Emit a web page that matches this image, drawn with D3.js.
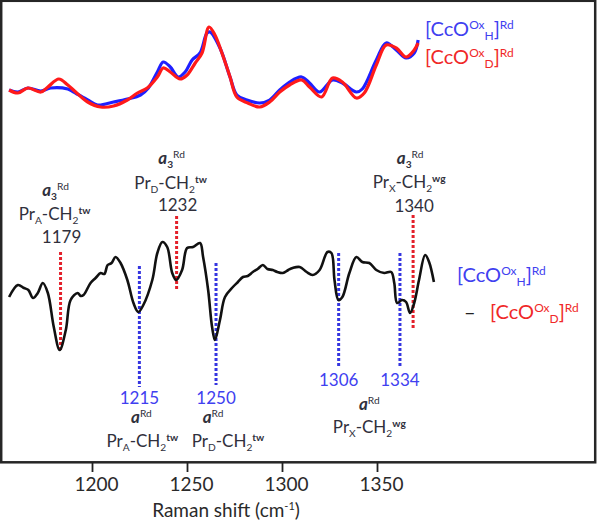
<!DOCTYPE html>
<html><head><meta charset="utf-8">
<script src="https://cdn.jsdelivr.net/npm/d3@7"></script>
<style>body{margin:0;background:#fff}svg{display:block}</style>
</head><body>
<svg id="c" width="600" height="524"></svg>
<script>
// ---- data (wavenumber, intensity in arbitrary units) ----
const topBlue = [[1155.5,20],[1159.5,18],[1164.1,22],[1170,19],[1174.5,22],[1182.3,21],[1185,18],[1191.4,10],[1195.9,5],[1203.2,8],[1209.5,11],[1215.5,15],[1219.1,22],[1223.2,38],[1225.9,48],[1229.1,43],[1232.7,33],[1235.9,38],[1239.1,50],[1242.7,57],[1245.9,77],[1247.3,78],[1251.8,62],[1256.4,33],[1259.5,15],[1264.1,10],[1270,7],[1274.5,10],[1279.1,20],[1283.6,28],[1289.1,33],[1292.7,27],[1297.3,18],[1303.2,30],[1307.7,27],[1314.1,18],[1316.8,21],[1323.2,50],[1327.7,67],[1332.3,60],[1336.8,52],[1340.5,57],[1342.3,70]];
const topRed = [[1155.5,20],[1159.5,17],[1164.1,22],[1170,18],[1173.2,23],[1178.2,31],[1182.3,25],[1185.9,18],[1191.4,8],[1197.3,3],[1203.2,4],[1209.5,10],[1214.1,17],[1218.6,22],[1223.2,33],[1225.9,42],[1229.1,38],[1233.6,31],[1236.8,35],[1240.5,47],[1243.6,57],[1246.8,83],[1249.5,75],[1252.7,57],[1256.4,33],[1259.5,13],[1264.5,7],[1270,3],[1274.5,8],[1279.1,18],[1283.6,25],[1289.1,30],[1292.7,23],[1298.2,13],[1303.2,32],[1307.7,28],[1314.1,12],[1317.7,17],[1323.2,45],[1327.7,65],[1332.3,62],[1336.8,53],[1340.5,60],[1342.3,67]];
const diffSpec = [[1155.5,63],[1159.5,75],[1162.3,72],[1164.3,70],[1166.4,62],[1168.6,67],[1170.9,77],[1173.2,67],[1175.9,33],[1178.6,10],[1181.4,30],[1183.6,60],[1186.8,67],[1188.2,64],[1189.5,65],[1192.7,77],[1195,82],[1197.3,87],[1199,86],[1200.5,95],[1202.3,97],[1204.1,103],[1206.4,97],[1209.5,80],[1212.3,57],[1214.5,48],[1216.8,55],[1220.9,80],[1223.2,107],[1225.5,118],[1227.7,113],[1230,87],[1231.8,80],[1234.5,90],[1236.8,112],[1239.5,113],[1242.7,117],[1244.1,103],[1246.4,70],[1248.2,33],[1249.5,20],[1251.8,40],[1254.1,63],[1257.7,73],[1260,78],[1262.3,83],[1264.5,84],[1266.8,88],[1269,91],[1271.4,95],[1273.5,91],[1275.9,90],[1278,88],[1280.5,87],[1283,90],[1285,92],[1288.2,93],[1291.4,88],[1294.1,85],[1297.3,90],[1300.9,108],[1302.7,107],[1304.1,80],[1305.9,60],[1307.7,63],[1310.9,87],[1314.1,103],[1316.8,98],[1320,97],[1323.2,90],[1326.8,87],[1330,88],[1331.4,77],[1332.7,57],[1335,60],[1336.8,58],[1338.6,47],[1340.5,57],[1342.7,80],[1345.5,105],[1347.3,98],[1349.5,78]];
// marker lines: wavenumber, top & bottom intensity (diff-spectrum units)
const a3Bands = [[1179,108,10],[1232,144,70],[1340,145,30]];
const aBands  = [[1215,94,-27],[1250,97,-25],[1306,107,-7],[1334,107,-7]];
const axisTicks = [1200,1250,1300,1350];

const svg = d3.select('#c');
const FONT = 'Lato, "Open Sans", sans-serif';
const TXT = '#30303c', BLUE = '#4040f0', RED = '#f02828';

// scales
const xSpec = d3.scaleLinear().domain([1155,1350]).range([8,435]);
const yTop = d3.scaleLinear().domain([0,100]).range([110,10]);
const yBot = d3.scaleLinear().domain([0,150]).range([360,210]);
const xAxisS = d3.scaleLinear().domain([1200,1350]).range([92,377]);

// frame
svg.append('rect').attr('x',1.2).attr('y',0.8).attr('width',594).attr('height',461.5)
  .attr('fill','none').attr('stroke','#262626').attr('stroke-width',2.5);

// axis
const ax = svg.append('g').attr('transform','translate(0,462)')
  .call(d3.axisBottom(xAxisS).tickValues(axisTicks).tickFormat(d3.format('d')).tickSize(10).tickPadding(6));
ax.select('.domain').remove();
ax.selectAll('line').attr('stroke','#222').attr('stroke-width',1.8);
ax.selectAll('text').attr('font-family',FONT).attr('font-size',19).attr('fill','#2a2a2a').attr('dx',4);
svg.append('text').attr('x',226).attr('y',517).attr('text-anchor','middle')
  .attr('font-family',FONT).attr('font-size',19).attr('fill','#2a2a2a')
  .call(t=>{t.append('tspan').text('Raman shift (cm');t.append('tspan').attr('dy',-7).attr('font-size',11).text('-1');t.append('tspan').attr('dy',7).text(')');});

// spectra
const lineTop = d3.line().x(d=>xSpec(d[0])).y(d=>yTop(d[1])).curve(d3.curveCatmullRom);
const lineBot = d3.line().x(d=>xSpec(d[0])).y(d=>yBot(d[1])).curve(d3.curveCatmullRom);
svg.append('path').datum(topBlue).attr('d',lineTop).attr('fill','none').attr('stroke','#1f1fff').attr('stroke-width',3.2);
svg.append('path').datum(topRed).attr('d',lineTop).attr('fill','none').attr('stroke','#ff1a1a').attr('stroke-width',3.2);

// marker lines
svg.selectAll('.a3').data(a3Bands).join('line').attr('class','a3')
  .attr('x1',d=>xSpec(d[0])).attr('x2',d=>xSpec(d[0])).attr('y1',d=>yBot(d[1])).attr('y2',d=>yBot(d[2]))
  .attr('stroke','#e3202a').attr('stroke-width',3).attr('stroke-dasharray','3,2');
svg.selectAll('.ab').data(aBands).join('line').attr('class','ab')
  .attr('x1',d=>xSpec(d[0])).attr('x2',d=>xSpec(d[0])).attr('y1',d=>yBot(d[1])).attr('y2',d=>yBot(d[2]))
  .attr('stroke','#3535e0').attr('stroke-width',3).attr('stroke-dasharray','3,2');

svg.append('path').datum(diffSpec).attr('d',lineBot).attr('fill','none').attr('stroke','#111').attr('stroke-width',2.6).attr('stroke-linejoin','round');

// rich text helper
function rich(x, y, segs, fs, color, anchor){
  const t = svg.append('text').attr('x',x).attr('y',y).attr('text-anchor',anchor||'middle')
    .attr('font-family',FONT).attr('font-size',fs).attr('fill',color);
  let cur = 0;
  segs.forEach(s=>{
    const shift = s.sub ? 0.22*fs : s.sup ? -0.36*fs : 0;
    const sp = t.append('tspan').text(s.t).attr('dy', shift-cur);
    cur = shift;
    if (s.sub||s.sup) sp.attr('font-size', fs*0.6);
    if (s.b) sp.attr('font-weight','bold');
    if (s.i) sp.attr('font-style','italic');
  });
  return t;
}
const a3 = [{t:'a',b:1,i:1},{t:'3',sub:1,b:1},{t:'Rd',sup:1}];
const aR = [{t:'a',b:1,i:1},{t:'Rd',sup:1}];
const pr = (s,m)=>[{t:'Pr'},{t:s,sub:1},{t:'-CH'},{t:'2',sub:1},{t:m,sup:1,b:1}];

// top annotations (a3)
const a3Labels = [['A','tw',-5,196,220,243],['D','tw',-5,164,189,211],['X','wg',-3,164,188,212]];
a3Bands.forEach((b,i)=>{
  const x = xSpec(b[0]); const L=a3Labels[i];
  rich(x+L[2], L[3], a3, 17, TXT);
  rich(x+L[2]-1, L[4], pr(L[0],L[1]), 17, TXT);
  svg.append('text').attr('x',x+1).attr('y',L[5]).attr('text-anchor','middle').attr('font-family',FONT)
    .attr('font-size',17).attr('fill',TXT).text(b[0]);
});
// bottom annotations (a)
aBands.forEach((b,i)=>{
  const x = xSpec(b[0]);
  const y = i<2 ? 404 : 386;
  svg.append('text').attr('x',x).attr('y',y).attr('text-anchor','middle').attr('font-family',FONT)
    .attr('font-size',17).attr('fill',BLUE).text(b[0]);
});
rich(xSpec(1215)+2, 423, aR, 17, TXT);
rich(xSpec(1215)+3, 447, pr('A','tw'), 17, TXT);
rich(xSpec(1250)-3, 423, aR, 17, TXT);
rich(xSpec(1250)+12, 447, pr('D','tw'), 17, TXT);
rich((xSpec(1306)+xSpec(1334))/2, 410, aR, 17, TXT);
rich((xSpec(1306)+xSpec(1334))/2, 433, pr('X','wg'), 17, TXT);

// legends
const leg = s=>[{t:'[CcO'},{t:'Ox',sup:1},{t:s,sub:1},{t:']'},{t:'Rd',sup:1}];
rich(425, 36, leg('H'), 20, BLUE, 'start');
rich(425, 64, leg('D'), 20, RED, 'start');
rich(457, 282, leg('H'), 20, BLUE, 'start');
svg.append('text').attr('x',464).attr('y',319).attr('font-family',FONT).attr('font-size',20).attr('fill','#222').text('–');
rich(490, 319, leg('D'), 20, RED, 'start');
</script>
</body></html>
